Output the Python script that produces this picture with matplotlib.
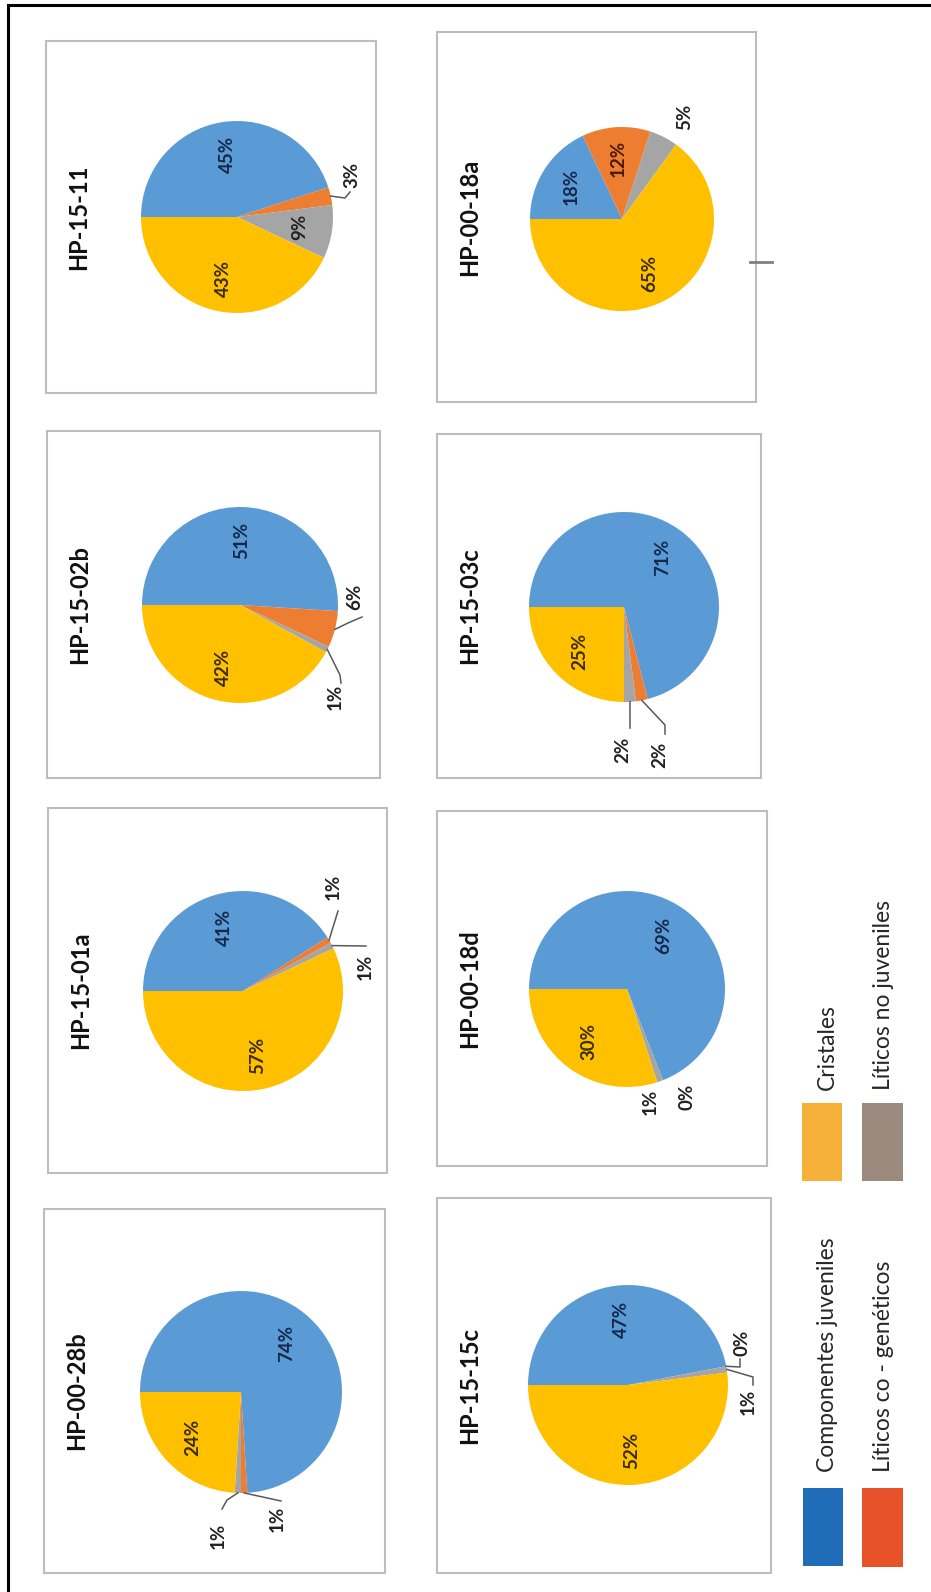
import matplotlib.pyplot as plt
from matplotlib.patches import Rectangle
import numpy as np

W, H = 931, 1592

# data: percentages per sample
samples = ['HP-00-28b', 'HP-15-01a', 'HP-15-02b', 'HP-15-11',
           'HP-15-15c', 'HP-00-18d', 'HP-15-03c', 'HP-00-18a']
juveniles = [74, 41, 51, 45, 47, 69, 71, 18]
cogeneticos = [1, 1, 6, 3, 0, 0, 2, 12]
no_juveniles = [1, 1, 1, 9, 1, 1, 2, 5]
cristales = [24, 57, 42, 43, 52, 30, 25, 65]
series_names = ['Componentes juveniles', 'Líticos co - genéticos',
                'Líticos no juveniles', 'Cristales']

pie_colors = ['#5B9BD5', '#ED7D31', '#A5A5A5', '#FFC000']
text_colors = ['#14284a', '#4a1a05', '#222222', '#3b2c00']
legend_colors = ['#1F6CB8', '#E8522A', '#9C8A7E', '#F6B13A']

# layout in pixels (y from top of the page)
boxes = [(44, 1209, 385, 1573), (48, 808, 387, 1173), (47, 431, 380, 778), (46, 41, 376, 393),
         (437, 1198, 771, 1573), (437, 811, 767, 1166), (437, 434, 761, 778), (437, 32, 756, 402)]
centers = [(241, 1392), (243, 991), (240, 605), (237, 217),
           (628, 1385), (627, 989), (624, 607), (622, 219)]
radii = [101, 100, 98, 96, 100, 98, 95, 92]

# outside labels: (sample, series) -> text offset from centre, leader points
outside = {
    ('HP-00-28b', 1): (36, 127, [(40, 109)]),
    ('HP-00-28b', 2): (-23, 144, [(-14, 108), (-19, 117)]),
    ('HP-15-01a', 1): (90, -104, [(95, -80)]),
    ('HP-15-01a', 2): (122, -24, [(123, -45)]),
    ('HP-15-02b', 1): (115, -8, [(108, 18), (122, 12)]),
    ('HP-15-02b', 2): (95, 92, [(100, 70), (101, 78)]),
    ('HP-15-11', 1): (115, -42, [(108, -19), (113, -25)]),
    ('HP-00-18a', 2): (63, -102, []),
    ('HP-15-03c', 1): (36, 148, [(41, 118), (41, 127)]),
    ('HP-15-03c', 2): (-1, 143, [(6, 121)]),
    ('HP-00-18d', 1): (60, 108, []),
    ('HP-00-18d', 2): (23, 113, []),
    ('HP-15-15c', 1): (114, -42, [(112, -18), (112, -26)]),
    ('HP-15-15c', 2): (120, 17, [(125, -8), (125, 0)]),
}

fam = ['Lato', 'DejaVu Sans']

fig = plt.figure(figsize=(W / 100, H / 100), dpi=100)
ax = fig.add_axes([0, 0, 1, 1])

for i, name in enumerate(samples):
    x0, y0, x1, y1 = boxes[i]
    ax.add_patch(Rectangle((x0, H - y1), x1 - x0, y1 - y0, facecolor='white',
                           edgecolor='#bdbdbd', lw=1.5, zorder=1))
    ax.text(x0 + 33, H - (y0 + y1) / 2, name, rotation=90, ha='center', va='center',
            fontsize=17, fontweight='bold', family=fam, color='#111111', zorder=5)

    cx, cy = centers[i]
    r = radii[i]
    vals = [juveniles[i], cogeneticos[i], no_juveniles[i], cristales[i]]
    wedges, _ = ax.pie(vals, colors=pie_colors, startangle=180, counterclock=False,
                       center=(cx, H - cy), radius=r,
                       wedgeprops=dict(linewidth=0, zorder=2))

    for k, w in enumerate(wedges):
        mid = np.deg2rad((w.theta1 + w.theta2) / 2)
        lab = '%d%%' % vals[k]
        if (name, k) in outside:
            dx, dy, pts = outside[(name, k)]
            if pts:
                xs = [cx + r * np.cos(mid)] + [cx + p[0] for p in pts]
                ys = [H - cy + r * np.sin(mid)] + [H - cy - p[1] for p in pts]
                ax.plot(xs, ys, color='#595959', lw=1.1, zorder=3)
            ax.text(cx + dx, H - cy - dy, lab, rotation=90, ha='center', va='center',
                    fontsize=13.5, fontweight='bold', family=fam, color='#222222', zorder=5)
        else:
            ax.text(cx + 0.66 * r * np.cos(mid), H - cy + 0.66 * r * np.sin(mid), lab,
                    rotation=90, ha='center', va='center', fontsize=13.5,
                    fontweight='bold', family=fam, color=text_colors[k], zorder=5)

# stray tick on the HP-00-18a panel
ax.plot([750, 772], [H - 262, H - 262], color='#808080', lw=2)

# legend
swatches = [(803, 1488, 843, 1566), (862, 1488, 903, 1567),
            (862, 1103, 903, 1181), (802, 1103, 842, 1181)]
legend_text = [(827, 1472), (883, 1472), (883, 1090), (827, 1090)]
for k in range(4):
    x0, y0, x1, y1 = swatches[k]
    ax.add_patch(Rectangle((x0, H - y1), x1 - x0, y1 - y0, facecolor=legend_colors[k],
                           edgecolor='none'))
    tx, ty = legend_text[k]
    ax.text(tx, H - ty, series_names[k], rotation=90, ha='center', va='bottom',
            fontsize=16.5, family=fam, color='#262626')

# outer frame (left and top edges visible)
ax.plot([8, 8], [-5, H - 5], color='black', lw=2.2)
ax.plot([8, W + 5], [H - 5, H - 5], color='black', lw=2.2)

ax.set_xlim(0, W)
ax.set_ylim(0, H)
ax.axis('off')

fig.savefig('out.png', dpi=100)
